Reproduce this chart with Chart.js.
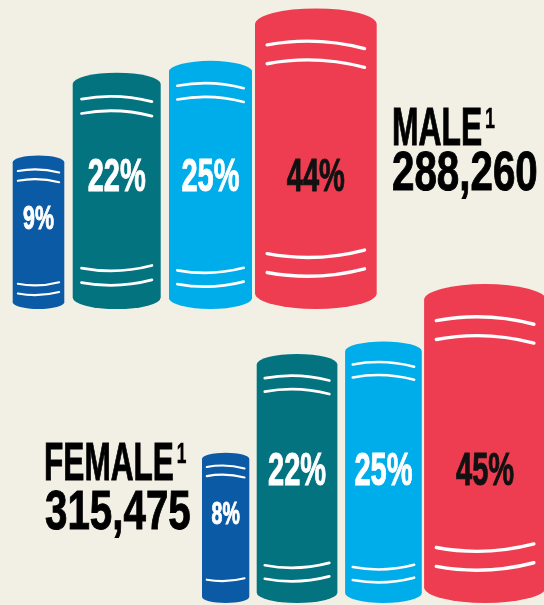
<!DOCTYPE html>
<html lang="en">
  <head>
    <meta charset="UTF-8" />
    <title>Male / Female</title>
    <script src="https://cdn.jsdelivr.net/npm/chart.js"></script>
    <style>
      body { margin: 0; background: #f2f0e4; }
      #wrap { position: relative; width: 544px; height: 605px; overflow: hidden; background: #f2f0e4; }
      canvas { position: absolute; left: 0; top: 0; }
      .big {
        position: absolute;
        font-family: "Liberation Sans", Arial, sans-serif;
        font-weight: bold;
        line-height: 1;
        white-space: nowrap;
        color: #000;
        -webkit-text-stroke: 1px #000;
        transform-origin: 0 0;
      }
      .big sup { font-size: 30px; vertical-align: 17px; line-height: 0; margin-left: 5px; -webkit-text-stroke: 0.5px #000; }
    </style>
  </head>
  <body>
    <div id="wrap">
      <canvas id="maleChart" width="544" height="605"></canvas>
      <canvas id="femaleChart" width="544" height="605"></canvas>

      <div class="big" id="maleName" style="left:392px; top:100px; font-size:53px; transform:scaleX(0.6)">MALE<sup>1</sup></div>
      <div class="big" id="maleCount" style="left:392px; top:143px; font-size:56px; transform:scaleX(0.72)"></div>
      <div class="big" id="femaleName" style="left:44px; top:435px; font-size:54.5px; transform:scaleX(0.58)">FEMALE<sup>1</sup></div>
      <div class="big" id="femaleCount" style="left:45px; top:482px; font-size:56px; transform:scaleX(0.72)"></div>
    </div>

    <script>
      // data
      const categories = ["Group 1", "Group 2", "Group 3", "Group 4"];
      const malePct = [9, 22, 25, 44];
      const femalePct = [8, 22, 25, 45];
      const maleTotal = 288260;
      const femaleTotal = 315475;

      // shared value axis (log)
      const yMin = 1.72;
      const yMax = 45;

      // styles
      const colors = ["#0b5aa5", "#03737f", "#00adeb", "#ee3d50"];
      const labelColors = ["#ffffff", "#ffffff", "#ffffff", "#111111"];

      const maleLayout = {
        left: 12.7,
        widths: [51.6, 88, 83, 121.7],
        gaps: [8.4, 8.3, 3],
        padTop: 6.3,
        padBottom: 296,
        bottomLines: [2, 2, 2, 2],
      };
      const femaleLayout = {
        left: 202,
        widths: [47.3, 80.7, 76.7, 122],
        gaps: [7.4, 7.7, 2.3],
        padTop: 284,
        padBottom: 2,
        bottomLines: [1, 2, 2, 2],
      };

      document.getElementById("maleCount").textContent = maleTotal.toLocaleString("en-US");
      document.getElementById("femaleCount").textContent = femaleTotal.toLocaleString("en-US");

      // centre of each book, packed left to right
      function centres(layout) {
        let x = layout.left;
        return layout.widths.map((w, i) => {
          const c = x + w / 2;
          x += w + (layout.gaps[i] || 0);
          return c;
        });
      }

      function drawBook(ctx, el, ds) {
        const { x, y, base, width } = el.getProps(["x", "y", "base", "width"], true);
        const w = width;
        const top = y;
        const L = x - w / 2;
        const R = x + w / 2;
        const d = 0.13 * w;

        ctx.save();
        ctx.fillStyle = ds.bookColor;
        ctx.beginPath();
        ctx.ellipse(x, top + d, w / 2, d, 0, Math.PI, 2 * Math.PI);
        ctx.lineTo(R, base - d);
        ctx.ellipse(x, base - d, w / 2, d, 0, 0, Math.PI);
        ctx.closePath();
        ctx.fill();

        // white spine lines
        ctx.strokeStyle = "#ffffff";
        ctx.lineWidth = 0.018 * w + 1.2;
        ctx.lineCap = "round";
        const inL = L + 0.1 * w;
        const inR = R - 0.1 * w;
        const bow = 0.045 * w;
        const tilt = 0.03 * w;
        const gap = 0.13 * w + 3;

        // dir -1 = hump up (top), +1 = sag (bottom)
        function spine(yMid, dir) {
          const yE = yMid - dir * bow;
          ctx.beginPath();
          ctx.moveTo(inL, yE + (dir * tilt) / 2);
          ctx.quadraticCurveTo(x, yMid + dir * bow, inR, yE - (dir * tilt) / 2);
          ctx.stroke();
        }
        const t1 = top + 0.27 * w;
        spine(t1, -1);
        spine(t1 + gap, -1);
        const b2 = base - 0.27 * w;
        spine(b2 - gap, 1);
        if (ds.bottomLines > 1) spine(b2, 1);

        // percentage label
        const h = base - top;
        const cap = Math.min(0.47 * w, 33);
        const cy = base - Math.min(0.6 * h, 135);
        ctx.fillStyle = ds.labelColor;
        ctx.strokeStyle = ds.labelColor;
        ctx.lineWidth = 1;
        ctx.font = "bold " + (cap / 0.716).toFixed(1) + 'px "Liberation Sans", Arial, sans-serif';
        ctx.textAlign = "center";
        ctx.textBaseline = "alphabetic";
        ctx.translate(x, cy + cap / 2);
        ctx.scale(0.63, 1);
        ctx.fillText(ds.labelText, 0, 0);
        ctx.strokeText(ds.labelText, 0, 0);
        ctx.restore();
      }

      const booksPlugin = {
        id: "books",
        afterDatasetsDraw(chart) {
          const ctx = chart.ctx;
          chart.data.datasets.forEach((ds, i) => {
            const meta = chart.getDatasetMeta(i);
            meta.data.forEach((el) => drawBook(ctx, el, ds));
          });
        },
      };

      function makeChart(id, values, layout) {
        const xs = centres(layout);
        const datasets = categories.map((cat, i) => ({
          label: cat,
          data: [{ x: xs[i], y: values[i] }],
          barThickness: layout.widths[i],
          grouped: false,
          backgroundColor: "rgba(0,0,0,0)",
          borderWidth: 0,
          bookColor: colors[i],
          labelColor: labelColors[i],
          labelText: values[i] + "%",
          bottomLines: layout.bottomLines[i],
        }));

        return new Chart(document.getElementById(id).getContext("2d"), {
          type: "bar",
          data: { datasets: datasets },
          options: {
            responsive: false,
            animation: false,
            layout: { padding: { top: layout.padTop, bottom: layout.padBottom, left: 0, right: 0 } },
            plugins: { legend: { display: false }, tooltip: { enabled: false } },
            scales: {
              x: { type: "linear", min: 0, max: 544, offset: false, display: false },
              y: { type: "logarithmic", min: yMin, max: yMax, display: false },
            },
          },
          plugins: [booksPlugin],
        });
      }

      makeChart("maleChart", malePct, maleLayout);
      makeChart("femaleChart", femalePct, femaleLayout);
    </script>
  </body>
</html>
